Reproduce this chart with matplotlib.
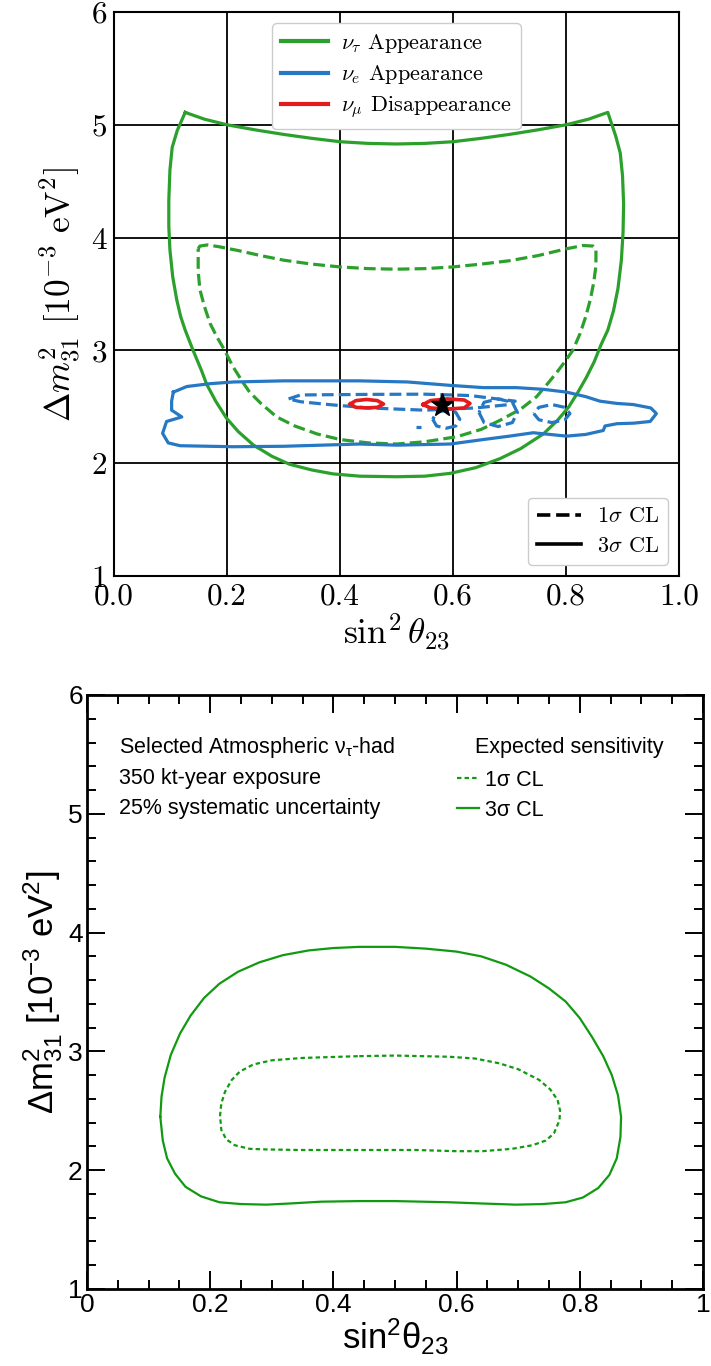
import numpy as np
import matplotlib
matplotlib.use("Agg")
import matplotlib.pyplot as plt
from matplotlib.font_manager import FontProperties
from matplotlib.lines import Line2D
from matplotlib.ticker import MultipleLocator

plt.rcParams["mathtext.fontset"] = "custom"
plt.rcParams["mathtext.rm"] = "Liberation Sans"
plt.rcParams["mathtext.it"] = "Liberation Sans:italic"
plt.rcParams["mathtext.bf"] = "Liberation Sans:bold"

# ---------------- top panel data (sin^2 theta23, dm2_31 [1e-3 eV^2]) ----------------
tau3_x = [0.126, 0.160, 0.200, 0.250, 0.300, 0.350, 0.400, 0.450, 0.500, 0.550, 0.600,
          0.650, 0.700, 0.750, 0.800, 0.840, 0.874, 0.888, 0.896, 0.900, 0.902, 0.901,
          0.898, 0.892, 0.884, 0.874, 0.862, 0.850, 0.836, 0.820, 0.805, 0.785, 0.760,
          0.720, 0.683, 0.640, 0.595, 0.550, 0.500, 0.435, 0.388, 0.350, 0.311, 0.280,
          0.247, 0.220, 0.199, 0.180, 0.164, 0.155, 0.140, 0.126, 0.118, 0.111, 0.104,
          0.099, 0.097, 0.097, 0.099, 0.103, 0.112, 0.126]
tau3_y = [5.11, 5.05, 5.00, 4.955, 4.915, 4.88, 4.85, 4.835, 4.83, 4.835, 4.85,
          4.88, 4.915, 4.955, 5.00, 5.05, 5.11, 4.90, 4.75, 4.55, 4.30, 4.05,
          3.80, 3.55, 3.35, 3.18, 3.05, 2.90, 2.76, 2.62, 2.50, 2.38, 2.26,
          2.13, 2.04, 1.96, 1.91, 1.885, 1.88, 1.885, 1.905, 1.94, 1.99, 2.06,
          2.16, 2.28, 2.40, 2.55, 2.70, 2.82, 3.00, 3.18, 3.30, 3.45, 3.65,
          3.89, 4.10, 4.33, 4.60, 4.80, 4.95, 5.11]

tau1_x = [0.149, 0.152, 0.165, 0.185, 0.220, 0.260, 0.300, 0.350, 0.400, 0.450, 0.500,
          0.550, 0.600, 0.650, 0.700, 0.750, 0.800, 0.830, 0.848, 0.853, 0.853, 0.849,
          0.843, 0.835, 0.825, 0.812, 0.798, 0.783, 0.765, 0.748, 0.720, 0.683, 0.650,
          0.607, 0.550, 0.500, 0.450, 0.400, 0.359, 0.320, 0.288, 0.260, 0.240, 0.229,
          0.210, 0.196, 0.182, 0.170, 0.160, 0.152, 0.149, 0.149]
tau1_y = [3.90, 3.925, 3.935, 3.92, 3.885, 3.84, 3.80, 3.765, 3.74, 3.725, 3.72,
          3.725, 3.74, 3.765, 3.795, 3.84, 3.90, 3.93, 3.925, 3.90, 3.75, 3.60,
          3.45, 3.30, 3.15, 3.00, 2.90, 2.80, 2.69, 2.59, 2.48, 2.38, 2.30,
          2.235, 2.19, 2.17, 2.18, 2.21, 2.26, 2.33, 2.41, 2.53, 2.63, 2.71,
          2.86, 3.00, 3.12, 3.24, 3.39, 3.54, 3.70, 3.90]

e3_x = [0.105, 0.129, 0.170, 0.211, 0.300, 0.435, 0.520, 0.595, 0.654, 0.712, 0.760,
        0.801, 0.835, 0.860, 0.890, 0.919, 0.950, 0.960, 0.949, 0.920, 0.890, 0.869,
        0.866, 0.835, 0.801, 0.742, 0.700, 0.654, 0.595, 0.500, 0.435, 0.300, 0.211,
        0.117, 0.096, 0.086, 0.093, 0.120, 0.102, 0.102, 0.105]
e3_y = [2.63, 2.68, 2.705, 2.72, 2.73, 2.73, 2.72, 2.69, 2.67, 2.67, 2.655,
        2.63, 2.59, 2.55, 2.53, 2.52, 2.49, 2.44, 2.37, 2.355, 2.35, 2.33,
        2.29, 2.255, 2.24, 2.27, 2.24, 2.21, 2.17, 2.16, 2.17, 2.15, 2.146,
        2.155, 2.18, 2.265, 2.37, 2.41, 2.47, 2.55, 2.63]

e1_main_x = [0.309, 0.330, 0.450, 0.550, 0.630, 0.670, 0.710, 0.700, 0.640, 0.550, 0.450, 0.380, 0.330, 0.309]
e1_main_y = [2.57, 2.605, 2.61, 2.612, 2.60, 2.575, 2.55, 2.52, 2.49, 2.47, 2.49, 2.52, 2.545, 2.57]
e1_loopa_x = [0.646, 0.655, 0.680, 0.705, 0.714, 0.705, 0.680, 0.655, 0.646]
e1_loopa_y = [2.45, 2.36, 2.325, 2.36, 2.45, 2.54, 2.57, 2.54, 2.45]
e1_loopb_x = [0.743, 0.752, 0.775, 0.798, 0.807, 0.798, 0.775, 0.752, 0.743]
e1_loopb_y = [2.44, 2.385, 2.36, 2.385, 2.44, 2.495, 2.52, 2.495, 2.44]
e1_loopc_x = [0.564, 0.571, 0.588, 0.605, 0.612, 0.605, 0.588, 0.571, 0.564]
e1_loopc_y = [2.39, 2.33, 2.31, 2.33, 2.39, 2.45, 2.47, 2.45, 2.39]
e1_dot_x = [0.535, 0.543]
e1_dot_y = [2.32, 2.32]

mu_a_x = [0.418, 0.428, 0.447, 0.466, 0.477, 0.466, 0.447, 0.428, 0.418]
mu_a_y = [2.525, 2.555, 2.565, 2.555, 2.525, 2.495, 2.49, 2.495, 2.525]
mu_b_x = [0.547, 0.560, 0.590, 0.620, 0.630, 0.620, 0.590, 0.560, 0.547]
mu_b_y = [2.52, 2.555, 2.57, 2.56, 2.53, 2.49, 2.48, 2.49, 2.52]

best_fit = (0.58, 2.52)

# ---------------- bottom panel data ----------------
had3_x = [0.119, 0.121, 0.126, 0.136, 0.151, 0.168, 0.190, 0.215, 0.245, 0.280, 0.318,
          0.360, 0.400, 0.442, 0.500, 0.550, 0.600, 0.640, 0.680, 0.720, 0.750, 0.777,
          0.800, 0.820, 0.838, 0.852, 0.862, 0.867, 0.866, 0.860, 0.848, 0.830, 0.805,
          0.777, 0.740, 0.696, 0.640, 0.588, 0.500, 0.442, 0.380, 0.330, 0.291, 0.250,
          0.215, 0.185, 0.160, 0.143, 0.130, 0.123, 0.119]
had3_y = [2.45, 2.62, 2.78, 2.97, 3.15, 3.30, 3.45, 3.57, 3.67, 3.75, 3.81,
          3.85, 3.87, 3.88, 3.88, 3.865, 3.84, 3.80, 3.73, 3.63, 3.53, 3.42,
          3.28, 3.12, 2.96, 2.80, 2.63, 2.45, 2.28, 2.10, 1.96, 1.85, 1.77,
          1.73, 1.715, 1.71, 1.72, 1.73, 1.74, 1.74, 1.735, 1.72, 1.71, 1.715,
          1.73, 1.78, 1.86, 1.97, 2.10, 2.25, 2.45]

had1_x = [0.442, 0.500, 0.588, 0.630, 0.669, 0.700, 0.734, 0.752, 0.764, 0.768, 0.767,
          0.758, 0.745, 0.723, 0.690, 0.642, 0.600, 0.534, 0.442, 0.345, 0.290, 0.264,
          0.240, 0.226, 0.218, 0.216, 0.218, 0.224, 0.235, 0.248, 0.270, 0.300, 0.350, 0.442]
had1_y = [2.96, 2.965, 2.955, 2.94, 2.90, 2.85, 2.76, 2.68, 2.59, 2.50, 2.42,
          2.31, 2.25, 2.21, 2.18, 2.16, 2.16, 2.17, 2.17, 2.17, 2.175, 2.18,
          2.21, 2.26, 2.34, 2.46, 2.56, 2.66, 2.76, 2.83, 2.89, 2.925, 2.945, 2.96]

info_lines = ["Selected Atmospheric $\\mathregular{\\nu_{\\tau}}$-had",
              "350 kt-year exposure",
              "25% systematic uncertainty"]

GREEN = "#2ca02c"
BLUE = "#2678c4"
RED = "#e41a1c"
GREEN2 = "#119a11"

fig = plt.figure(figsize=(7.11, 13.66), dpi=100)

# ============================ top panel ============================
ax = fig.add_axes([114 / 711, 1 - 576 / 1366, 565 / 711, 564 / 1366])
lw = 2.3
ax.plot(tau3_x, tau3_y, color=GREEN, lw=lw, zorder=3)
ax.plot(tau1_x, tau1_y, color=GREEN, lw=lw, ls="--", zorder=3)
ax.plot(e3_x, e3_y, color=BLUE, lw=lw, zorder=4)
for xs, ys in [(e1_main_x, e1_main_y), (e1_loopa_x, e1_loopa_y),
               (e1_loopb_x, e1_loopb_y), (e1_loopc_x, e1_loopc_y), (e1_dot_x, e1_dot_y)]:
    ax.plot(xs, ys, color=BLUE, lw=lw, ls="--", zorder=4)
ax.plot(mu_a_x, mu_a_y, color=RED, lw=lw + 0.3, zorder=5)
ax.plot(mu_b_x, mu_b_y, color=RED, lw=lw + 0.3, zorder=5)
ax.plot(*best_fit, marker="*", color="black", ms=17, zorder=6, ls="none")

ax.set_xlim(0, 1)
ax.set_ylim(1, 6)
ax.set_xticks(np.arange(0, 1.01, 0.2))
ax.set_yticks(np.arange(1, 6.01, 1))
ax.grid(True, color="black", lw=1.3)
ax.tick_params(direction="in", length=0, labelsize=22.5, labelfontfamily="cmr10", pad=5)
for s in ax.spines.values():
    s.set_linewidth(1.5)

ax.set_xlabel(r"$\sin^2\theta_{23}$", fontsize=25.5, math_fontfamily="cm", labelpad=0)
ax.set_ylabel(r"$\Delta m^2_{31}\ [10^{-3}\ \mathrm{eV}^2]$", fontsize=25.5,
              math_fontfamily="cm", labelpad=6)

lp = FontProperties(family="cmr10", size=16, math_fontfamily="cm")
h1 = [Line2D([], [], color=GREEN, lw=3), Line2D([], [], color=BLUE, lw=3),
      Line2D([], [], color=RED, lw=3)]
leg1 = ax.legend(h1, [r"$\nu_\tau$ Appearance", r"$\nu_e$ Appearance", r"$\nu_\mu$ Disappearance"],
                 loc="upper center", prop=lp, handlelength=2.1, handletextpad=0.6,
                 borderpad=0.4, framealpha=1, labelspacing=0.38)
ax.add_artist(leg1)
h2 = [Line2D([], [], color="black", lw=2.6, ls="--"), Line2D([], [], color="black", lw=2.6)]
ax.legend(h2, [r"$1\sigma$ CL", r"$3\sigma$ CL"], loc="lower right", prop=lp,
          handlelength=2.0, handletextpad=0.7, borderpad=0.4, framealpha=1,
          labelspacing=0.45)

# ============================ bottom panel ============================
bx = fig.add_axes([87 / 711, 1 - 1289 / 1366, 616 / 711, 594 / 1366])
bx.plot(had3_x, had3_y, color=GREEN2, lw=1.6)
bx.plot(had1_x, had1_y, color=GREEN2, lw=1.6, dashes=(2.0, 1.4))
bx.set_xlim(0, 1)
bx.set_ylim(1, 6)
bx.xaxis.set_major_locator(MultipleLocator(0.2))
bx.xaxis.set_minor_locator(MultipleLocator(0.05))
bx.yaxis.set_major_locator(MultipleLocator(1))
bx.yaxis.set_minor_locator(MultipleLocator(0.2))
bx.xaxis.set_major_formatter(plt.FuncFormatter(lambda v, p: f"{v:g}"))
bx.yaxis.set_major_formatter(plt.FuncFormatter(lambda v, p: f"{v:g}"))
bx.tick_params(which="both", direction="in", top=True, right=True, width=1.4,
               labelsize=19, labelfontfamily="Liberation Sans")
bx.tick_params(which="major", length=13, pad=3)
bx.tick_params(which="minor", length=6.5)
for s in bx.spines.values():
    s.set_linewidth(2.0)

bx.set_xlabel(r"$\mathregular{sin^2\theta_{23}}$", fontsize=25, family="Liberation Sans", labelpad=0)
bx.set_ylabel(r"$\mathregular{\Delta m^2_{31}\ [10^{-3}\ eV^2]}$", fontsize=25,
              family="Liberation Sans", labelpad=2)

for i, t in enumerate(info_lines):
    bx.text(0.052, 0.902 - i * 0.0515, t, transform=bx.transAxes, fontsize=15.5,
            family="Liberation Sans", va="baseline")
bx.text(0.630, 0.902, "Expected sensitivity", transform=bx.transAxes, fontsize=15.5,
        family="Liberation Sans", va="baseline")
h3 = [Line2D([], [], color=GREEN2, lw=1.6, dashes=(2.0, 1.4)), Line2D([], [], color=GREEN2, lw=1.6)]
bx.legend(h3, ["1σ CL", "3σ CL"], loc="upper left", bbox_to_anchor=(0.601, 0.874),
          prop=FontProperties(family="Liberation Sans", size=15.5), frameon=False,
          handlelength=1.0, handletextpad=0.3, labelspacing=0.42, borderpad=0, borderaxespad=0)

fig.savefig("out.png", dpi=100)
